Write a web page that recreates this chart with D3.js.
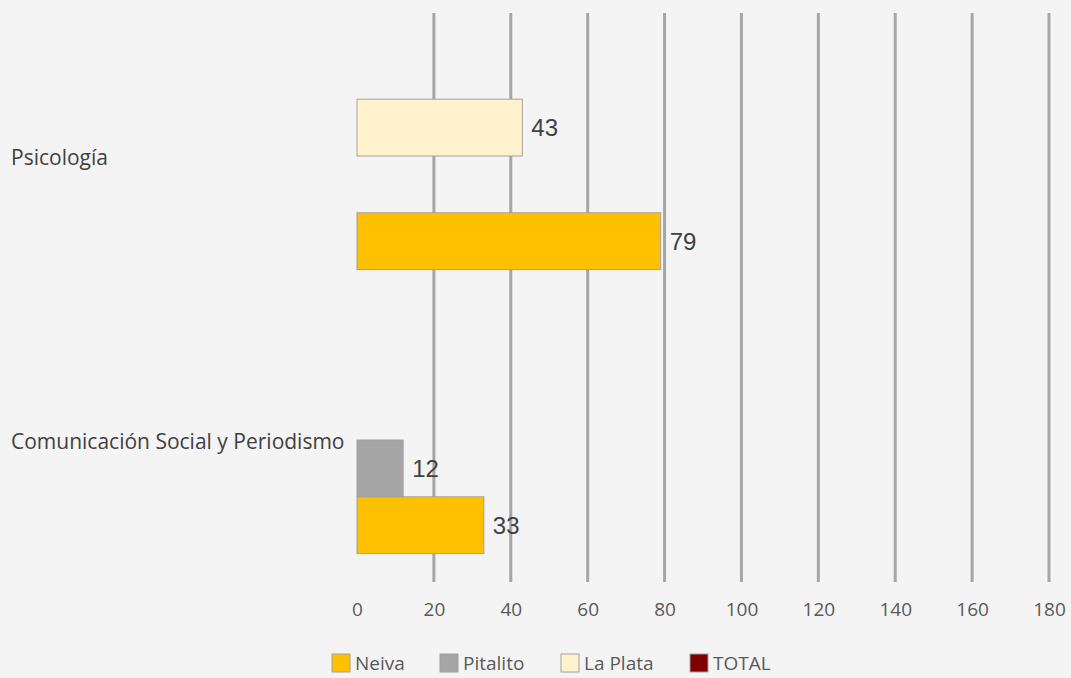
<!DOCTYPE html>
<html>
<head>
<meta charset="utf-8">
<script src="https://cdn.jsdelivr.net/npm/d3@7"></script>
<style>
  body { margin: 0; background: #f4f4f4; }
  svg { display: block; }
</style>
</head>
<body>
<svg width="1071" height="678"></svg>
<script>
var categories = ["Psicología", "Comunicación Social y Periodismo"];
var seriesNames = ["Neiva", "Pitalito", "La Plata", "TOTAL"];
var neiva = [79, 33];
var pitalito = [null, 12];
var laPlata = [43, null];
var total = [null, null];
var xTicks = [0, 20, 40, 60, 80, 100, 120, 140, 160, 180];

var colors = {
  "Neiva": "#ffc000",
  "Pitalito": "#a5a5a5",
  "La Plata": "#fff2cc",
  "TOTAL": "#7f0000"
};
var valuesBySeries = {
  "Neiva": neiva,
  "Pitalito": pitalito,
  "La Plata": laPlata,
  "TOTAL": total
};

var svg = d3.select("svg");

var x = d3.scaleLinear().domain([0, 180]).range([357, 1049]);
var y = d3.scaleBand()
  .domain(categories)
  .range([14, 582])
  .paddingInner(0.2)
  .paddingOuter(0.1);
// series drawn top to bottom in reverse order (Excel style)
var ySub = d3.scaleBand()
  .domain(seriesNames.slice().reverse())
  .range([0, y.bandwidth()]);

// gridlines
svg.append("g")
  .selectAll("line")
  .data(xTicks.filter(function (d) { return d > 0; }))
  .enter()
  .append("line")
  .attr("x1", function (d) { return x(d); })
  .attr("x2", function (d) { return x(d); })
  .attr("y1", 13)
  .attr("y2", 582)
  .attr("stroke", "#a6a6a6")
  .attr("stroke-width", 3);

// bars
var rows = [];
categories.forEach(function (c, i) {
  seriesNames.forEach(function (s) {
    var v = valuesBySeries[s][i];
    if (v != null) rows.push({ cat: c, series: s, value: v });
  });
});

svg.append("g")
  .selectAll("rect")
  .data(rows)
  .enter()
  .append("rect")
  .attr("x", x(0))
  .attr("y", function (d) { return y(d.cat) + ySub(d.series); })
  .attr("width", function (d) { return x(d.value) - x(0); })
  .attr("height", ySub.bandwidth())
  .attr("fill", function (d) { return colors[d.series]; })
  .attr("stroke", "#a0a0a0")
  .attr("stroke-width", 1);

// value labels
svg.append("g")
  .selectAll("text")
  .data(rows)
  .enter()
  .append("text")
  .attr("x", function (d) { return x(d.value) + 9; })
  .attr("y", function (d) { return y(d.cat) + ySub(d.series) + ySub.bandwidth() / 2; })
  .attr("dy", "0.35em")
  .attr("font-family", "Liberation Sans, Arial, sans-serif")
  .attr("font-size", 24)
  .attr("fill", "#404040")
  .text(function (d) { return d.value; });

// category labels
svg.append("g")
  .selectAll("text")
  .data(categories)
  .enter()
  .append("text")
  .attr("x", 11)
  .attr("y", function (d) { return y(d) + y.bandwidth() / 2 + 2; })
  .attr("dy", "0.35em")
  .attr("font-family", "Open Sans, sans-serif")
  .attr("font-size", 21)
  .attr("fill", "#404040")
  .text(function (d) { return d; });

// x axis tick labels
var xAxis = svg.append("g")
  .attr("transform", "translate(0,602)")
  .call(d3.axisBottom(x).tickValues(xTicks).tickSize(0).tickPadding(0));
xAxis.select(".domain").remove();
xAxis.selectAll("text")
  .attr("font-family", "Open Sans, sans-serif")
  .attr("font-size", 19)
  .attr("fill", "#595959");

// legend
var legendX = [332, 440, 561, 690];
var legend = svg.append("g")
  .selectAll("g")
  .data(seriesNames)
  .enter()
  .append("g")
  .attr("transform", function (d, i) { return "translate(" + legendX[i] + ",654)"; });
legend.append("rect")
  .attr("width", 18)
  .attr("height", 18)
  .attr("fill", function (d) { return colors[d]; })
  .attr("stroke", "#a0a0a0")
  .attr("stroke-width", 1);
legend.append("text")
  .attr("x", 23)
  .attr("y", 9)
  .attr("dy", "0.38em")
  .attr("font-family", "Open Sans, sans-serif")
  .attr("font-size", 19)
  .attr("fill", "#595959")
  .text(function (d) { return d; });
</script>
</body>
</html>
